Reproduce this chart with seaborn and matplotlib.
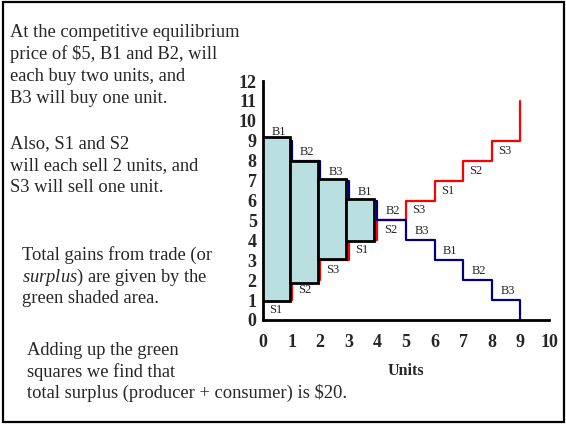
import matplotlib
matplotlib.use("Agg")
import matplotlib.pyplot as plt
from matplotlib.patches import Rectangle
import seaborn as sns
import pandas as pd

# step curves: price paid/asked for each successive unit
units = [0, 1, 2, 3, 4, 5, 6, 7, 8, 9]
demand_prices = [9, 8, 7, 6, 5, 4, 3, 2, 1, 0]
supply_prices = [1, 2, 3, 4, 5, 6, 7, 8, 9, 11]
buyer_labels = ["B1", "B2", "B3", "B1", "B2", "B3", "B1", "B2", "B3"]
seller_labels = ["S1", "S2", "S3", "S1", "S2", "S3", "S1", "S2", "S3"]

# hand-drawn surplus blocks
block_left = [0.0, 0.93, 1.92, 2.9]
block_right = [0.93, 1.92, 2.9, 3.89]
block_bottom = [0.97, 1.87, 3.05, 3.98]
block_top = [9.2, 8.0, 7.1, 6.08]

W, H = 566, 424
sns.set_style("white")
plt.rcParams["font.family"] = ["Liberation Serif", "DejaVu Serif"]
plt.rcParams["mathtext.fontset"] = "custom"
plt.rcParams["mathtext.it"] = "Liberation Serif:italic"
plt.rcParams["mathtext.rm"] = "Liberation Serif"

fig = plt.figure(figsize=(W / 100, H / 100), dpi=100)
ax = fig.add_axes([263 / W, 1 - 320 / H, 286 / W, 239 / H])

df = pd.DataFrame({"units": units, "demand": demand_prices, "supply": supply_prices})
sns.lineplot(data=df, x="units", y="supply", drawstyle="steps-post", color="#FF0000",
             lw=1.6, estimator=None, ax=ax, zorder=2)
sns.lineplot(data=df, x="units", y="demand", drawstyle="steps-post", color="#000080",
             lw=1.6, estimator=None, ax=ax, zorder=3)

widths = [r - l for l, r in zip(block_left, block_right)]
heights = [t - b for t, b in zip(block_top, block_bottom)]
ax.bar(block_left, heights, width=widths, bottom=block_bottom, align="edge",
       color="#BADFE1", edgecolor="black", linewidth=2, zorder=4)

for i, lab in enumerate(buyer_labels):
    ax.text(i + 0.55, demand_prices[i] + 0.45, lab, fontsize=9, ha="center",
            va="center", zorder=5)
for i, lab in enumerate(seller_labels):
    ax.text(i + 0.45, supply_prices[i] - 0.5, lab, fontsize=9, ha="center",
            va="center", zorder=5)

ax.set_xlim(0, 10)
ax.set_ylim(0, 12)
ax.set_xticks(range(0, 11))
ax.set_yticks(range(0, 13))
ax.set_xlabel("Units", fontsize=11.5, fontweight="bold", labelpad=9)
ax.set_ylabel("")
for side in ["top", "right"]:
    ax.spines[side].set_visible(False)
for side in ["left", "bottom"]:
    ax.spines[side].set_linewidth(2)
    ax.spines[side].set_color("black")
ax.tick_params(axis="x", direction="out", length=4, width=1.5, pad=6, labelsize=13)
ax.tick_params(axis="y", direction="out", length=3, width=1.5, pad=1.5, labelsize=13)
for t in ax.get_xticklabels() + ax.get_yticklabels():
    t.set_fontweight("bold")

def note(x, y, s, **kw):
    fig.text(x / W, 1 - y / H, s, fontsize=13.3, va="baseline", ha="left", **kw)

note(10, 37, "At the competitive equilibrium")
note(10, 59, "price of $5, B1 and B2, will")
note(10, 81, "each buy two units, and")
note(10, 103, "B3 will buy one unit.")
note(10, 148, "Also, S1 and S2")
note(10, 170, "will each sell 2 units, and")
note(10, 192, "S3 will sell one unit.")
note(22, 260, "Total gains from trade (or")
note(22, 282, r"$\mathit{surplus}$) are given by the")
note(22, 303, "green shaded area.")
note(27, 355, "Adding up the green")
note(27, 377, "squares we find that")
note(27, 398, "total surplus (producer + consumer) is \\$20.")

fig.patches.append(Rectangle((3 / W, 2 / H), 561 / W, 420 / H, transform=fig.transFigure,
                             fill=False, edgecolor="black", linewidth=1.6))

fig.savefig("out.png", dpi=100)
